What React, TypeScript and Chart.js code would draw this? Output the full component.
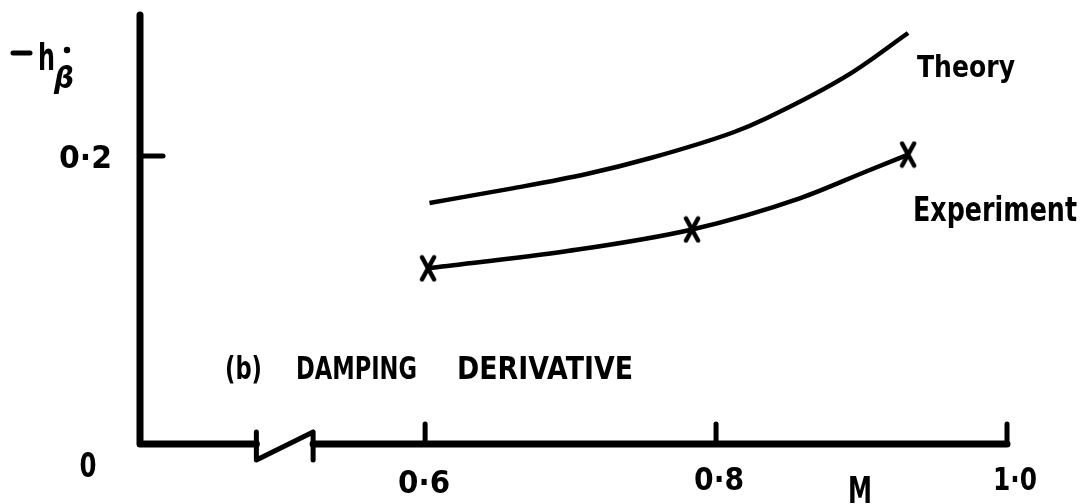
import React, { useEffect, useRef } from "react";
import { Chart, registerables } from "chart.js";

Chart.register(...registerables);

// Theory curve (Mach number, -h_beta-dot)
const theoryM = [0.603, 0.66, 0.711, 0.755, 0.812, 0.835, 0.892, 0.932];
const theoryV = [0.1674, 0.1775, 0.1875, 0.1986, 0.2165, 0.2264, 0.257, 0.2854];

// Experiment faired curve
const expLineM = [0.602, 0.698, 0.7835, 0.858, 0.904, 0.932];
const expLineV = [0.122, 0.134, 0.149, 0.1708, 0.1896, 0.201];

// Experimental points (X markers)
const expPointM = [0.602, 0.7835, 0.932];
const expPointV = [0.122, 0.149, 0.201];

// Axis ticks
const xTicks = [0.6, 0.8, 1.0];
const xTickLabels = ["0·6", "0·8", "1·0"];
const yTicks = [0.2];
const yTickLabels = ["0·2"];

const X_MIN = 0.404;
const X_MAX = 1.0;
const Y_MIN = 0;
const Y_MAX = 0.3;
const BREAK_START = 0.484;
const BREAK_END = 0.523;

const FONT = '"DejaVu Sans"';

function fitText(
  ctx: CanvasRenderingContext2D,
  text: string,
  cx: number,
  capMid: number,
  width: number,
  capH: number,
  weight = "bold"
) {
  const size = capH / 0.729;
  ctx.save();
  ctx.font = `${weight} ${size}px ${FONT}`;
  const w = ctx.measureText(text).width;
  ctx.translate(cx, capMid + capH / 2);
  ctx.scale(width / w, 1);
  ctx.textAlign = "center";
  ctx.textBaseline = "alphabetic";
  ctx.fillStyle = "#000";
  ctx.fillText(text, 0, 0);
  ctx.restore();
}

function makeXMarker(): HTMLCanvasElement {
  const c = document.createElement("canvas");
  c.width = 20;
  c.height = 28;
  const g = c.getContext("2d")!;
  g.strokeStyle = "#000";
  g.lineWidth = 4.5;
  g.lineCap = "round";
  g.beginPath();
  g.moveTo(4, 3);
  g.lineTo(16, 25);
  g.moveTo(16, 3);
  g.lineTo(4, 25);
  g.stroke();
  return c;
}

const axesPlugin = {
  id: "oldAxes",
  afterDraw(chart: any) {
    const ctx: CanvasRenderingContext2D = chart.ctx;
    const xs = chart.scales.x;
    const ys = chart.scales.y;
    const area = chart.chartArea;
    const x0 = area.left;
    const y0 = ys.getPixelForValue(0);
    ctx.save();
    ctx.strokeStyle = "#000";
    ctx.lineCap = "round";
    ctx.lineJoin = "round";
    ctx.lineWidth = 7;
    ctx.beginPath();
    ctx.moveTo(x0, area.top + 3);
    ctx.lineTo(x0, y0);
    ctx.lineTo(xs.getPixelForValue(BREAK_START), y0);
    ctx.stroke();
    ctx.beginPath();
    ctx.moveTo(xs.getPixelForValue(BREAK_END), y0);
    ctx.lineTo(xs.getPixelForValue(X_MAX), y0);
    ctx.stroke();
    const bs = xs.getPixelForValue(BREAK_START);
    const be = xs.getPixelForValue(BREAK_END);
    ctx.lineWidth = 5;
    ctx.beginPath();
    ctx.moveTo(bs, y0 - 12);
    ctx.lineTo(bs, y0 + 16);
    ctx.lineTo(be, y0 - 12);
    ctx.moveTo(be, y0 - 12);
    ctx.lineTo(be, y0 + 16);
    ctx.stroke();
    ctx.lineWidth = 5;
    xTicks.forEach((t) => {
      const px = xs.getPixelForValue(t);
      ctx.beginPath();
      ctx.moveTo(px, y0);
      ctx.lineTo(px, y0 - 20);
      ctx.stroke();
    });
    yTicks.forEach((t) => {
      const py = ys.getPixelForValue(t);
      ctx.beginPath();
      ctx.moveTo(x0, py);
      ctx.lineTo(x0 + 23, py);
      ctx.stroke();
    });
    ctx.restore();

    const xLabelPos = [
      { dx: -1, cy: 481, w: 52, h: 23 },
      { dx: 3, cy: 478, w: 50, h: 23 },
      { dx: 8, cy: 478, w: 44, h: 23 },
    ];
    xTickLabels.forEach((lab, i) => {
      const p = xLabelPos[i];
      fitText(ctx, lab, xs.getPixelForValue(xTicks[i]) + p.dx, p.cy, p.w, p.h);
    });
    yTickLabels.forEach((lab, i) => {
      fitText(ctx, lab, 85.5, ys.getPixelForValue(yTicks[i]), 53, 23);
    });
    fitText(ctx, "0", 88, 465, 17, 24);
    fitText(ctx, "M", 860, 489, 24, 27);

    fitText(ctx, "Theory", 966, 66, 98, 22);
    fitText(ctx, "Experiment", 995, 209, 164, 24);

    fitText(ctx, "(b)", 243.5, 367, 37, 23);
    fitText(ctx, "DAMPING", 356.5, 367, 121, 23);
    fitText(ctx, "DERIVATIVE", 545, 367, 176, 23);

    ctx.save();
    ctx.strokeStyle = "#000";
    ctx.lineWidth = 5;
    ctx.lineCap = "round";
    ctx.beginPath();
    ctx.moveTo(13, 53);
    ctx.lineTo(30, 53);
    ctx.stroke();
    ctx.restore();
    fitText(ctx, "h", 46.5, 56.5, 17, 27);
    ctx.save();
    ctx.font = `bold italic 30px ${FONT}`;
    ctx.fillStyle = "#000";
    ctx.textAlign = "center";
    ctx.textBaseline = "alphabetic";
    const bw = ctx.measureText("β").width;
    ctx.translate(64, 88);
    ctx.scale(20 / bw, 1);
    ctx.fillText("β", 0, 0);
    ctx.restore();
    ctx.save();
    ctx.fillStyle = "#000";
    ctx.beginPath();
    ctx.arc(67, 50, 3.2, 0, Math.PI * 2);
    ctx.fill();
    ctx.restore();
  },
};

export default function App() {
  const ref = useRef<HTMLCanvasElement | null>(null);
  useEffect(() => {
    if (!ref.current) return;
    const marker = makeXMarker();
    const chart = new Chart(ref.current, {
      type: "scatter",
      data: {
        datasets: [
          {
            label: "Theory",
            data: theoryM.map((m, i) => ({ x: m, y: theoryV[i] })),
            showLine: true,
            borderColor: "#000",
            borderWidth: 4.5,
            pointRadius: 0,
            cubicInterpolationMode: "monotone",
            fill: false,
            clip: false as any,
          },
          {
            label: "Experiment",
            data: expLineM.map((m, i) => ({ x: m, y: expLineV[i] })),
            showLine: true,
            borderColor: "#000",
            borderWidth: 4.5,
            pointRadius: 0,
            cubicInterpolationMode: "monotone",
            fill: false,
            clip: false as any,
          },
          {
            label: "Experiment points",
            data: expPointM.map((m, i) => ({ x: m, y: expPointV[i] })),
            showLine: false,
            pointStyle: marker as any,
            pointRadius: 10,
            clip: false as any,
          },
        ],
      },
      options: {
        responsive: false,
        animation: false,
        events: [],
        layout: { padding: { left: 140, right: 76, top: 12, bottom: 60 } },
        plugins: {
          legend: { display: false },
          tooltip: { enabled: false },
          title: { display: false },
        },
        scales: {
          x: { type: "linear", min: X_MIN, max: X_MAX, display: false },
          y: { type: "linear", min: Y_MIN, max: Y_MAX, display: false },
        },
      },
      plugins: [axesPlugin],
    });
    return () => chart.destroy();
  }, []);
  return (
    <div style={{ position: "fixed", left: 0, top: 0, width: 1083, height: 504, background: "#fff" }}>
      <canvas ref={ref} width={1083} height={504} style={{ display: "block", width: 1083, height: 504 }} />
    </div>
  );
}
